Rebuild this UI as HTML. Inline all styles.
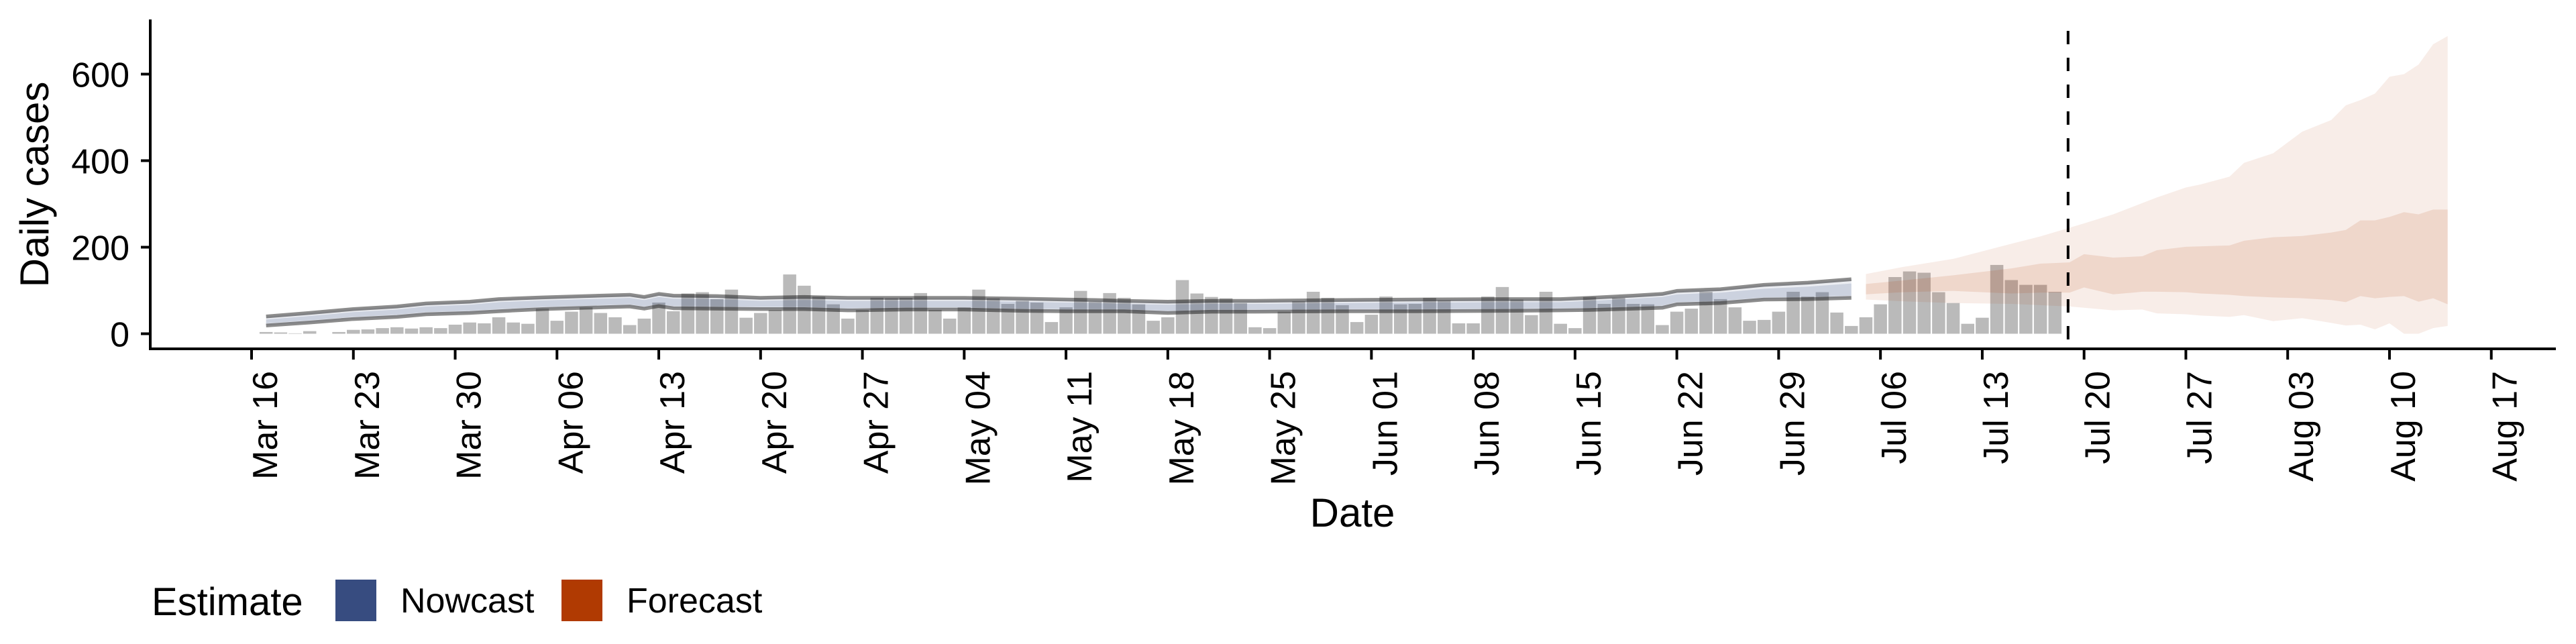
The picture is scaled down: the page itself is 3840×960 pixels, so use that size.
<!DOCTYPE html>
<html><head><meta charset="utf-8"><style>
html,body{margin:0;padding:0;background:#fff;}
svg{display:block;font-family:"Liberation Sans",Arial,sans-serif;}
</style></head><body>
<svg id="chart" width="3840" height="960" viewBox="0 0 3840 960" xmlns="http://www.w3.org/2000/svg">
<g id="bars"></g>
<g id="bands"></g>
<g id="lines"></g>
<g id="axes"></g>
<text x="0" y="0" transform="translate(72,275) rotate(-90)" text-anchor="middle" font-size="60">Daily cases</text>
<text x="2016" y="785" text-anchor="middle" font-size="60">Date</text>
<g>
<text x="226" y="917" font-size="58">Estimate</text>
<rect x="500" y="864" width="61" height="62" fill="#374c80"/>
<text x="597" y="913" font-size="52">Nowcast</text>
<rect x="837" y="864" width="61" height="62" fill="#b03a02"/>
<text x="934" y="913" font-size="52">Forecast</text>
</g>
</svg>
<script>
const barDays = Array.from({length:124},(_, i)=>i+1);
const barValues = [4,3,1,6,0,4,9,10,13,15,12,15,13,21,26,24,38,26,23,58,30,51,61,48,38,20,35,72,52,93,96,80,102,37,48,55,137,111,86,68,35,55,83,82,83,94,55,35,61,102,82,69,76,72,27,61,99,74,94,83,68,30,38,124,93,85,82,71,15,13,51,75,97,83,66,27,44,86,68,69,83,77,24,24,86,108,79,43,97,23,13,85,69,83,69,68,20,51,58,97,80,61,30,32,51,97,86,96,49,18,38,68,131,144,141,96,71,23,37,159,124,113,113,97];
const nowDays = [1,4,7,10,12,15,17,20,23,26,27,28,29,32,35,38,41,45,49,53,56,58,60,63,66,69,75,80,86,90,92,95,97,98,101,104,107,110];
const nowUpper = [40,48,57,63,70,74,80,84,87,90,85,92,88,87,83,85,83,83,83,81,79,78,76,74,76,76,78,79,80,80,83,88,92,99,103,113,118,126];
const nowLower = [19,26,34,39,45,48,52,57,60,63,58,64,59,58,57,57,54,56,56,53,52,52,52,48,51,51,52,52,53,54,55,58,60,68,71,79,80,83];
const nowInnerHi = [33,41,50,56,63,67,73,77,80,83,78,85,81,80,76,78,76,76,76,74,72,71,69,67,69,69,71,72,73,73,76,81,85,91,95,104,109,116];
const nowInnerLo = [24,31,39,44,50,53,57,62,65,68,63,69,64,63,62,62,59,61,61,58,57,57,57,53,56,56,57,57,58,59,60,63,65,73,76,84,85,88];
const fcDays = [111,113.5,117,121,123,125,126,128,130,131,133,134,136,137,139,141,143,144,145,146,147,148,149,150,151];
const fcOuterHi = [138,154,173,208,225,245,255,276,302,315,338,345,363,395,417,467,494,528,540,555,594,600,622,669,688];
const fcInnerHi = [115,123,135,151,162,165,184,176,179,193,201,202,204,215,223,226,234,240,262,262,270,281,276,287,287];
const fcInnerLo = [91,96,99,93,95,95,107,91,97,97,96,93,90,87,84,82,78,73,87,82,85,87,74,82,68];
const fcOuterLo = [79,75,71,69,66,63,60,54,56,47,45,42,39,43,29,36,25,19,21,10,24,0,0,13,18];
const yTicks = [0,200,400,600];
const xTickLabels = ["Mar 16","Mar 23","Mar 30","Apr 06","Apr 13","Apr 20","Apr 27","May 04","May 11","May 18","May 25","Jun 01","Jun 08","Jun 15","Jun 22","Jun 29","Jul 06","Jul 13","Jul 20","Jul 27","Aug 03","Aug 10","Aug 17"];
const forecastDateDay = 124.9;

const NS = "http://www.w3.org/2000/svg";
const X0 = 375, DAY = 21.68, Y0 = 497.5, YK = 0.645;
const xs = d => X0 + d*DAY;
const ys = v => Y0 - v*YK;
function mk(tag, attrs, parent){const e=document.createElementNS(NS,tag);for(const k in attrs)e.setAttribute(k,attrs[k]);parent.appendChild(e);return e;}

const gb = document.getElementById('bars');
barDays.forEach((d,i)=>{
  const v = barValues[i]; if(v<=0) return;
  const r = mk('rect',{x:xs(d)-9.75,y:ys(v),width:19.5,height:Y0-ys(v),fill:'#bababa'},gb);
  
  
});

function band(days, hi, lo, fill, op, name){
  let p = days.map((d,i)=>xs(d)+','+ys(hi[i])).join(' ');
  p += ' ' + days.map((d,i)=>xs(d)+','+ys(lo[i])).reverse().join(' ');
  const e = mk('polygon',{points:p,fill:fill,'fill-opacity':op},document.getElementById('bands'));
  
  
}
band(nowDays, nowUpper, nowLower, '#374c80', 0.10, 'nowcast-outer-band');
band(nowDays, nowInnerHi, nowInnerLo, '#374c80', 0.17, 'nowcast-inner-band');
band(fcDays, fcOuterHi, fcOuterLo, '#b33c00', 0.09, 'forecast-outer-band');
band(fcDays, fcInnerHi, fcInnerLo, '#b33c00', 0.12, 'forecast-inner-band');

const gl = document.getElementById('lines');
[[nowUpper,'nowcast-upper-line'],[nowLower,'nowcast-lower-line']].forEach(([arr,nm])=>{
  const pl = mk('polyline',{points:nowDays.map((d,i)=>xs(d)+','+ys(arr[i])).join(' '),fill:'none',stroke:'#000','stroke-opacity':0.45,'stroke-width':5.5,'stroke-linejoin':'round'},gl);
  
  
});

const ga = document.getElementById('axes');
const dl = mk('line',{x1:xs(forecastDateDay),x2:xs(forecastDateDay),y1:46,y2:520,stroke:'#000','stroke-width':4,'stroke-dasharray':'20 20'},ga);


const ya = mk('line',{x1:224,x2:224,y1:29,y2:522,stroke:'#000','stroke-width':4},ga);


const xa = mk('line',{x1:222,x2:3810,y1:520,y2:520,stroke:'#000','stroke-width':4},ga);


yTicks.forEach(v=>{
  const t = mk('line',{x1:210,x2:224,y1:ys(v),y2:ys(v),stroke:'#000','stroke-width':4},ga);
  
  
  const l = mk('text',{x:193,y:ys(v)+19,'text-anchor':'end','font-size':52},ga);
  l.textContent = v;
  
  
});
xTickLabels.forEach((lab,i)=>{
  const x = xs(i*7);
  const t = mk('line',{x1:x,x2:x,y1:520,y2:536,stroke:'#000','stroke-width':4},ga);
  
  
  const tx = x+38, ty = 553;
  const l = mk('text',{x:tx,y:ty,'text-anchor':'end','font-size':52,transform:`rotate(-90 ${tx} ${ty})`},ga);
  l.textContent = lab;
  
  
});
</script>
</body></html>
